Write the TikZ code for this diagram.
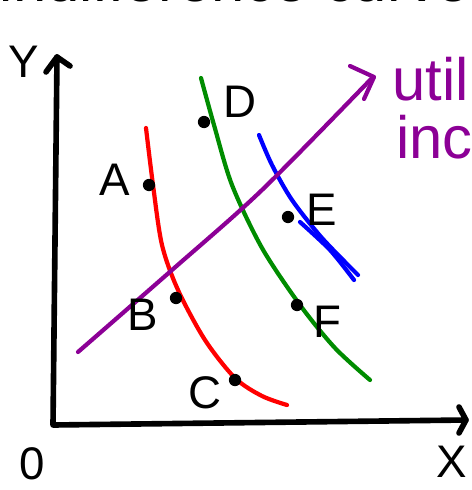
\documentclass[tikz,border=0pt]{standalone}
\usepackage{fontspec}
\setmainfont{Liberation Sans}

\definecolor{pen purple}{RGB}{140,0,150}
\definecolor{pen green}{RGB}{0,140,0}
\definecolor{pen red}{RGB}{255,0,0}
\definecolor{pen blue}{RGB}{0,0,255}

\begin{document}
\begin{tikzpicture}[x=0.02cm,y=-0.02cm,
	axis/.style={line width=3.2pt,line cap=round,line join=round},
	curve/.style={line width=2.4pt,line cap=round,line join=round},
	pt/.style={circle,fill,inner sep=0pt,minimum size=7pt},
	lbl/.style={font=\fontsize{26}{28}\selectfont,inner sep=1pt},
	note/.style={font=\fontsize{34}{38}\selectfont,anchor=base west,inner sep=0pt}]
	\useasboundingbox (0,0) rectangle (472,490);
	\clip (0,0) rectangle (472,490);
	
	% 坐标轴
	\coordinate (O) at (53,425);
	\coordinate (ytip) at (57,57);
	\coordinate (xtip) at (466,420);
	\draw[axis] (ytip) -- (O) -- (xtip);
	\draw[axis] (46,72) -- (ytip) -- (70,66);
	\draw[axis] (459,407) -- (xtip) -- (459,433);
	\node[lbl] (ylab) at (24,62) {Y};
	\node[lbl] (xlab) at (452,462) {X};
	\node[lbl] (olab) at (32,464) {0};
	
	% 标题（被截去）
	\node[note,anchor=base] (title) at (250,2) {indifference curves};
	
	% 无差异曲线
	\draw[curve,pen red] plot[smooth] coordinates
		{(146,128) (153,185) (162,245) (178,290) (205,340) (235,378) (262,396) (287,405)};
	\draw[curve,pen green] plot[smooth] coordinates
		{(201,78) (214,125) (232,185) (262,248) (300,305) (335,348) (370,380)};
	\draw[curve,pen blue] plot[smooth] coordinates
		{(259,135) (272,165) (292,200) (322,238) (358,275)};
	\draw[curve,pen blue] plot[smooth] coordinates
		{(300,222) (330,250) (354,280)};
	
	% 效用增加方向
	\draw[curve,pen purple] plot[smooth] coordinates
		{(78,352) (172,270) (262,190) (373,77)};
	\draw[curve,pen purple] (350,66) -- (374,77) -- (364,99);
	\node[note,pen purple] (util) at (392,100) {utility};
	\node[note,pen purple] (incr) at (396,158) {increases};
	
	% 消费组合
	\foreach \name/\px/\py/\lx/\ly in {A/149/185/115/180, D/204/122/240/102,
		B/176/298/143/315, C/235/380/205/393, E/288/217/322/210, F/297/305/327/322}
	{
		\node[pt] (\name) at (\px,\py) {};
		\node[lbl] (lab\name) at (\lx,\ly) {\name};
	}
\end{tikzpicture}
\end{document}
